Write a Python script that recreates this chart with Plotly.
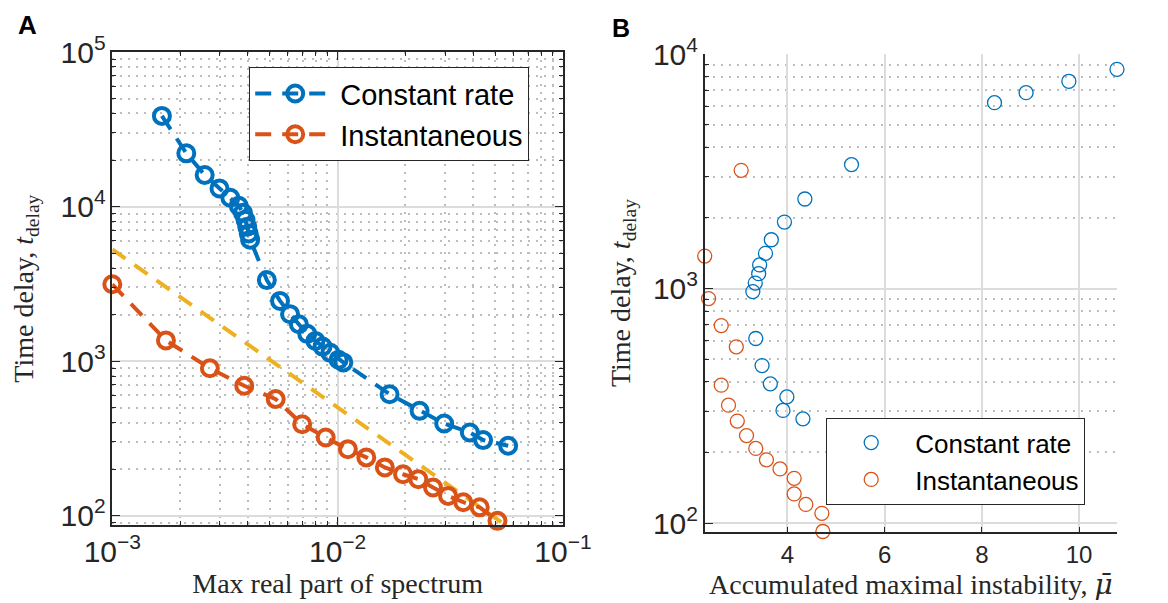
import plotly.graph_objects as go

# ---------------- Panel A data ----------------
cr_rate = [1.66e-3, 2.13e-3, 2.57e-3, 2.99e-3, 3.34e-3, 3.64e-3, 3.80e-3, 3.90e-3, 3.97e-3,
           4.03e-3, 4.09e-3, 4.85e-3, 5.55e-3, 6.15e-3, 6.73e-3, 7.33e-3, 7.97e-3, 8.57e-3,
           9.28e-3, 1.01e-2, 1.06e-2, 1.70e-2, 2.31e-2, 2.97e-2, 3.86e-2, 4.42e-2, 5.71e-2]
cr_delay = [38600, 22100, 16000, 13100, 11400, 10100, 9100, 8200, 7400,
            6700, 6100, 3340, 2450, 2010, 1730, 1500, 1350, 1240,
            1130, 1020, 980, 610, 476, 394, 345, 308, 283]

inst_rate = [1.0e-3, 1.73e-3, 2.71e-3, 3.85e-3, 5.31e-3, 6.96e-3, 8.85e-3, 1.11e-2, 1.34e-2,
             1.62e-2, 1.95e-2, 2.28e-2, 2.65e-2, 3.09e-2, 3.61e-2, 4.27e-2, 5.12e-2]
inst_delay = [3140, 1360, 898, 692, 567, 390, 320, 269, 238,
              205, 185, 172, 152, 134, 122, 113, 92.4]

fit_rate = [1.0e-3, 5.61e-2]
fit_delay = [5280, 86]

# ---------------- Panel B data ----------------
cr_mu = [10.78, 9.79, 8.91, 8.26, 5.32, 4.36, 3.94, 3.67, 3.55, 3.43, 3.41, 3.34, 3.29,
         3.35, 3.48, 3.65, 3.99, 3.91, 4.32]
cr_tb = [8600, 7650, 6840, 6200, 3375, 2408, 1920, 1614, 1412, 1260, 1157, 1055, 970,
         612, 469, 392, 345, 302, 278]
inst_mu = [3.05, 2.30, 2.38, 2.64, 2.95, 2.64, 2.79, 2.97, 3.16, 3.35, 3.57, 3.85,
           4.14, 4.14, 4.38, 4.71, 4.73]
inst_tb = [3190, 1375, 906, 695, 564, 387, 318, 272, 236, 208, 186, 170,
           155, 133, 120, 110, 92]

labels = ["Constant rate", "Instantaneous"]
xticksB = [4, 6, 8, 10]

BLUE = "#0072BD"
ORANGE = "#D95319"
YELLOW = "#EDB120"
AX = "#262626"
GRID = "#dcdcdc"
MINOR = "#bdbdbd"
SANS = "Liberation Sans, Arial, sans-serif"
SERIF = "Liberation Serif, Times New Roman, serif"

W, H = 1168, 603

def fx(px):
    return px / W

def fy(py):
    return 1 - py / H

fig = go.Figure()

dash = "16px,11px"
fig.add_trace(go.Scatter(x=fit_rate, y=fit_delay, mode="lines",
                         line=dict(color=YELLOW, width=4, dash=dash),
                         showlegend=False, xaxis="x", yaxis="y", cliponaxis=False))
fig.add_trace(go.Scatter(x=cr_rate, y=cr_delay, mode="lines+markers", name=labels[0],
                         line=dict(color=BLUE, width=4, dash=dash),
                         marker=dict(symbol="circle-open", size=16, color=BLUE,
                                     line=dict(width=4, color=BLUE)),
                         legend="legend", xaxis="x", yaxis="y", cliponaxis=False))
fig.add_trace(go.Scatter(x=inst_rate, y=inst_delay, mode="lines+markers", name=labels[1],
                         line=dict(color=ORANGE, width=4, dash=dash),
                         marker=dict(symbol="circle-open", size=16, color=ORANGE,
                                     line=dict(width=4, color=ORANGE)),
                         legend="legend", xaxis="x", yaxis="y", cliponaxis=False))

fig.add_trace(go.Scatter(x=cr_mu, y=cr_tb, mode="markers", name=labels[0],
                         marker=dict(symbol="circle-open", size=14, color=BLUE,
                                     line=dict(width=1.3, color=BLUE)),
                         legend="legend2", xaxis="x2", yaxis="y2", cliponaxis=False))
fig.add_trace(go.Scatter(x=inst_mu, y=inst_tb, mode="markers", name=labels[1],
                         marker=dict(symbol="circle-open", size=14, color=ORANGE,
                                     line=dict(width=1.3, color=ORANGE)),
                         legend="legend2", xaxis="x2", yaxis="y2", cliponaxis=False))

tickfont = dict(family=SANS, size=24, color=AX)
titlefont = dict(family=SERIF, size=28, color=AX)

minor_log = dict(ticks="inside", ticklen=4, tickcolor=AX, dtick="D1",
                 showgrid=True, gridcolor=MINOR, griddash="2px,6px", gridwidth=1.5)

common = dict(automargin=False, zeroline=False, showgrid=True, gridcolor=GRID,
              gridwidth=1.5, showline=True, linecolor=AX, linewidth=1.8,
              tickfont=tickfont, ticks="inside", tickcolor=AX, tickwidth=1)

mu_bar = '<span style="font-family:DejaVu Serif"><i>\u03bc\u0304</i></span>'

fig.update_layout(
    width=W, height=H,
    margin=dict(l=0, r=0, t=0, b=0, autoexpand=False),
    paper_bgcolor="white", plot_bgcolor="white",
    font=dict(family=SANS, color=AX),
    xaxis=dict(type="log", range=[-3, -1], domain=[fx(104.3), fx(555)], anchor="y",
               dtick=1, exponentformat="power", showexponent="all",
               ticklen=8, mirror="allticks", minor=minor_log,
               title=dict(text="Max real part of spectrum", font=titlefont, standoff=6),
               **common),
    yaxis=dict(type="log", range=[1.937, 5], domain=[fy(517.3), fy(44)], anchor="x",
               dtick=1, exponentformat="power", showexponent="all",
               ticklen=8, mirror="allticks", minor=minor_log,
               title=dict(text="Time delay, <i>t</i><sub>delay</sub>", font=titlefont, standoff=20),
               **common),
    xaxis2=dict(range=[2.30, 10.78], domain=[fx(696.7), fx(1109)], anchor="y2",
                tickvals=xticksB, ticktext=[str(v) for v in xticksB],
                ticklen=5, mirror=False,
                title=dict(text="Accumulated maximal instability, " + mu_bar,
                           font=titlefont, standoff=6),
                **common),
    yaxis2=dict(type="log", range=[1.9616, 4], domain=[fy(524), fy(46)], anchor="x2",
                dtick=1, exponentformat="power", showexponent="all",
                ticklen=8, mirror=False, minor=minor_log,
                title=dict(text="Time delay, <i>t</i><sub>delay</sub>", font=titlefont, standoff=14),
                **common),
    legend=dict(x=fx(241), y=fy(59), xanchor="left", yanchor="top",
                bgcolor="white", bordercolor=AX, borderwidth=1.2,
                font=dict(family=SANS, size=29, color="black"),
                itemwidth=80, tracegroupgap=0),
    legend2=dict(x=fx(818), y=fy(410), xanchor="left", yanchor="top",
                 bgcolor="white", bordercolor=AX, borderwidth=1.2,
                 font=dict(family=SANS, size=26, color="black"),
                 itemwidth=78, tracegroupgap=0),
    annotations=[
        dict(text="<b>A</b>", x=fx(8), y=fy(0), xref="paper", yref="paper",
             xanchor="left", yanchor="top", showarrow=False,
             font=dict(family=SANS, size=26, color="black")),
        dict(text="<b>B</b>", x=fx(602), y=fy(4), xref="paper", yref="paper",
             xanchor="left", yanchor="top", showarrow=False,
             font=dict(family=SANS, size=25, color="black")),
    ],
)

fig.write_html("out.html")
